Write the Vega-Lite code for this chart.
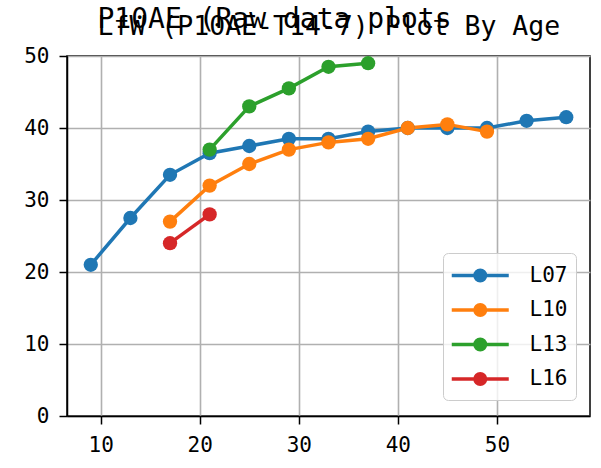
{
  "$schema": "https://vega.github.io/schema/vega-lite/v6.json",
  "width": 523,
  "height": 360,
  "autosize": {"type": "none"},
  "padding": {"left": 67, "top": 56, "right": 11, "bottom": 52},
  "background": "white",
  "title": {
    "text": "\u00a0\u00a0P10AE (Raw data plots",
    "subtitle": "LfW (P10AE-T14-7) Plot By Age",
    "anchor": "start",
    "frame": "group",
    "dx": 30.5,
    "offset": 4.5,
    "subtitlePadding": -20,
    "font": "DejaVu Sans Mono",
    "fontSize": 28,
    "fontWeight": "normal",
    "color": "black",
    "subtitleFont": "DejaVu Sans Mono",
    "subtitleFontSize": 26.5,
    "subtitleColor": "black"
  },
  "config": {
    "view": {"stroke": "black", "strokeWidth": 1.5},
    "axis": {
      "labelFont": "DejaVu Sans Mono",
      "labelFontSize": 21,
      "labelColor": "black",
      "domainColor": "black",
      "domainWidth": 1.5,
      "tickColor": "black",
      "tickWidth": 1.5,
      "tickSize": 8,
      "gridColor": "#b0b0b0",
      "gridWidth": 1.6,
      "labelPadding": 10,
      "labelFlush": false
    }
  },
  "data": {
    "values": [
      {"series": "L07", "age": 9, "lfw": 21},
      {"series": "L07", "age": 13, "lfw": 27.5},
      {"series": "L07", "age": 17, "lfw": 33.5},
      {"series": "L07", "age": 21, "lfw": 36.5},
      {"series": "L07", "age": 25, "lfw": 37.5},
      {"series": "L07", "age": 29, "lfw": 38.5},
      {"series": "L07", "age": 33, "lfw": 38.5},
      {"series": "L07", "age": 37, "lfw": 39.5},
      {"series": "L07", "age": 41, "lfw": 40},
      {"series": "L07", "age": 45, "lfw": 40},
      {"series": "L07", "age": 49, "lfw": 40},
      {"series": "L07", "age": 53, "lfw": 41},
      {"series": "L07", "age": 57, "lfw": 41.5},
      {"series": "L10", "age": 17, "lfw": 27},
      {"series": "L10", "age": 21, "lfw": 32},
      {"series": "L10", "age": 25, "lfw": 35},
      {"series": "L10", "age": 29, "lfw": 37},
      {"series": "L10", "age": 33, "lfw": 38},
      {"series": "L10", "age": 37, "lfw": 38.5},
      {"series": "L10", "age": 41, "lfw": 40},
      {"series": "L10", "age": 45, "lfw": 40.5},
      {"series": "L10", "age": 49, "lfw": 39.5},
      {"series": "L13", "age": 21, "lfw": 37},
      {"series": "L13", "age": 25, "lfw": 43},
      {"series": "L13", "age": 29, "lfw": 45.5},
      {"series": "L13", "age": 33, "lfw": 48.5},
      {"series": "L13", "age": 37, "lfw": 49},
      {"series": "L16", "age": 17, "lfw": 24},
      {"series": "L16", "age": 21, "lfw": 28}
    ]
  },
  "encoding": {
    "x": {
      "field": "age",
      "type": "quantitative",
      "scale": {"domain": [6.6, 59.4], "nice": false, "zero": false},
      "axis": {"title": null, "values": [10, 20, 30, 40, 50]}
    },
    "y": {
      "field": "lfw",
      "type": "quantitative",
      "scale": {"domain": [0, 50], "nice": false},
      "axis": {"title": null, "values": [0, 10, 20, 30, 40, 50]}
    },
    "color": {
      "field": "series",
      "type": "nominal",
      "scale": {"domain": ["L07", "L10", "L13", "L16"], "range": ["#1f77b4", "#ff7f0e", "#2ca02c", "#d62728"]},
      "legend": {
        "title": null,
        "orient": "none",
        "legendX": 376,
        "legendY": 197,
        "padding": 8,
        "symbolType": "M-2.28,0L2.28,0M-0.42,0A0.42,0.42 0 1 0 0.42,0A0.42,0.42 0 1 0 -0.42,0Z",
        "symbolSize": 625,
        "symbolStrokeWidth": 3.5,
        "symbolOffset": 14.75,
        "labelFont": "DejaVu Sans Mono",
        "labelFontSize": 21,
        "labelColor": "black",
        "labelOffset": 34.75,
        "rowPadding": 7.5,
        "strokeColor": "#cccccc",
        "fillColor": "rgba(255,255,255,0.8)",
        "cornerRadius": 5,
        "encode": {
          "symbols": {
            "update": {
              "fill": {"scale": "color", "field": "value"},
              "stroke": {"scale": "color", "field": "value"},
              "opacity": {"value": 1}
            }
          }
        }
      }
    }
  },
  "layer": [
    {"mark": {"type": "line", "strokeWidth": 3.5}},
    {"mark": {"type": "point", "filled": true, "size": 205, "opacity": 1}}
  ]
}
